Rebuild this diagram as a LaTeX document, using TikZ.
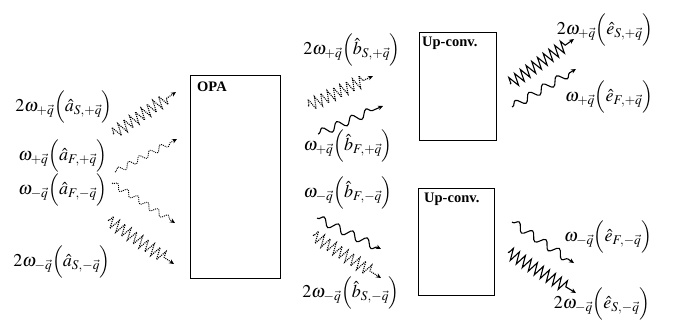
\documentclass[tikz,border=0pt]{standalone}
\usepackage{mathptmx}
\usepackage[no-math]{fontspec}
\newfontfamily\boxfont{Liberation Serif}
\usetikzlibrary{decorations.pathmorphing,arrows.meta}
\begin{document}
\begin{tikzpicture}[x=1pt,y=-1pt,
  box/.style={draw,line width=1pt},
  lbl/.style={inner sep=0pt, font=\fontsize{18}{20}\selectfont},
  boxlbl/.style={font=\boxfont\fontsize{14.5}{16}\selectfont\bfseries, anchor=north west, inner sep=0pt},
  tip/.style={-{Stealth[length=5pt,width=4.5pt]}},
  fwave/.style={tip, line width=1.1pt, decorate, decoration={snake, amplitude=3pt, segment length=12pt, pre length=1pt, post length=4pt}},
  fwavebig/.style={fwave, decoration={snake, amplitude=4pt, segment length=16pt, pre length=1pt, post length=4pt}},
  swave/.style={tip, line width=1.1pt, decorate, decoration={zigzag, amplitude=6pt, segment length=7pt, pre length=1pt, post length=10pt}},
  dotty/.style={dash pattern=on 1pt off 1pt}]
\useasboundingbox (0,0) rectangle (679,322);

% boxes
\node[box, minimum width=90pt, minimum height=203pt, inner sep=0pt, anchor=north west] (opa) at (190,75) {};
\node[boxlbl] (opal) at (197,82) {OPA};
\node[box, minimum width=77pt, minimum height=108pt, inner sep=0pt, anchor=north west] (up1) at (419,32) {};
\node[boxlbl] (up1l) at (422,37) {Up-conv.};
\node[box, minimum width=76pt, minimum height=107pt, inner sep=0pt, anchor=north west] (up2) at (418,188) {};
\node[boxlbl] (up2l) at (424,193) {Up-conv.};

% left labels
\node[lbl] (a1) at (64,107) {$2\omega_{+\vec q}\Bigl(\hat a_{S,+\vec q}\Bigr)$};
\node[lbl] (a2) at (63,156) {$\omega_{+\vec q}\Bigl(\hat a_{F,+\vec q}\Bigr)$};
\node[lbl] (a3) at (63,190) {$\omega_{-\vec q}\Bigl(\hat a_{F,-\vec q}\Bigr)$};
\node[lbl] (a4) at (62,262) {$2\omega_{-\vec q}\Bigl(\hat a_{S,-\vec q}\Bigr)$};

% middle labels
\node[lbl] (b1) at (352,50) {$2\omega_{+\vec q}\Bigl(\hat b_{S,+\vec q}\Bigr)$};
\node[lbl] (b2) at (348,146) {$\omega_{+\vec q}\Bigl(\hat b_{F,+\vec q}\Bigr)$};
\node[lbl] (b3) at (348,193) {$\omega_{-\vec q}\Bigl(\hat b_{F,-\vec q}\Bigr)$};
\node[lbl] (b4) at (351,293) {$2\omega_{-\vec q}\Bigl(\hat b_{S,-\vec q}\Bigr)$};

% right labels
\node[lbl] (e1) at (605,30) {$2\omega_{+\vec q}\Bigl(\hat e_{S,+\vec q}\Bigr)$};
\node[lbl] (e2) at (609,97) {$\omega_{+\vec q}\Bigl(\hat e_{F,+\vec q}\Bigr)$};
\node[lbl] (e3) at (608,237) {$\omega_{-\vec q}\Bigl(\hat e_{F,-\vec q}\Bigr)$};
\node[lbl] (e4) at (602,304) {$2\omega_{-\vec q}\Bigl(\hat e_{S,-\vec q}\Bigr)$};

% wave end points
\coordinate (s1) at (113,134); \coordinate (t1) at (176,92);
\coordinate (s2) at (115,172); \coordinate (t2) at (177,139);
\coordinate (s3) at (112,183); \coordinate (t3) at (175,223);
\coordinate (s4) at (108,220); \coordinate (t4) at (174,264);

\coordinate (s5) at (308,106); \coordinate (t5) at (373,76);
\coordinate (s6) at (318,134); \coordinate (t6) at (383,106);
\coordinate (s7) at (317,218); \coordinate (t7) at (381,249);
\coordinate (s8) at (313,235); \coordinate (t8) at (381,278);

\coordinate (s9) at (510,84); \coordinate (t9) at (574,39);
\coordinate (s10) at (512,107); \coordinate (t10) at (576,69);
\coordinate (s11) at (512,222); \coordinate (t11) at (574,263);
\coordinate (s12) at (508,252); \coordinate (t12) at (576,293);

% left waves (dotted)
\draw[swave, dotty] (s1) -- (t1);
\draw[fwave, dotty, line width=0.9pt] (s2) -- (t2);
\draw[fwave, dotty, line width=0.9pt] (s3) -- (t3);
\draw[swave, dotty] (s4) -- (t4);

% middle waves
\draw[swave, dotty] (s5) -- (t5);
\draw[fwavebig] (s6) -- (t6);
\draw[fwavebig] (s7) -- (t7);
\draw[swave, dotty] (s8) -- (t8);

% right waves
\draw[swave] (s9) -- (t9);
\draw[fwavebig] (s10) -- (t10);
\draw[fwavebig] (s11) -- (t11);
\draw[swave] (s12) -- (t12);
\end{tikzpicture}
\end{document}
